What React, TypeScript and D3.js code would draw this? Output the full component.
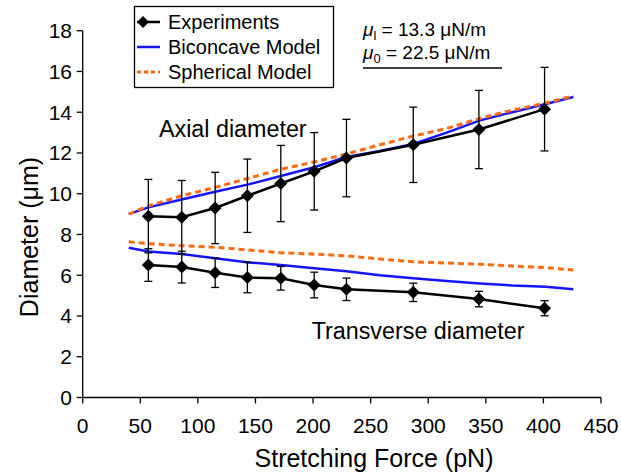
import React from "react";
import * as d3 from "d3";

// experiments: stretching force (pN), diameters (um) with error bars
const forces = [57, 86, 115, 143, 172, 201, 229, 287, 344, 401];
const axialExp = [8.9, 8.85, 9.3, 9.9, 10.5, 11.1, 11.75, 12.4, 13.15, 14.15];
const axialErr = [1.8, 1.8, 1.75, 1.8, 1.87, 1.9, 1.9, 1.85, 1.92, 2.05];
const transExp = [6.5, 6.4, 6.12, 5.89, 5.85, 5.52, 5.31, 5.16, 4.83, 4.38];
const transErr = [0.8, 0.78, 0.72, 0.75, 0.58, 0.63, 0.55, 0.45, 0.38, 0.37];

// model curves
const modelForces = [40, 57, 86, 115, 144, 172, 201, 229, 258, 287, 316, 345, 373, 402, 426];
const biconcaveAxial = [9.0, 9.33, 9.72, 10.1, 10.46, 10.87, 11.3, 11.8, 12.1, 12.44, 13.0, 13.6, 14.0, 14.4, 14.75];
const sphericalAxial = [9.0, 9.4, 9.9, 10.31, 10.76, 11.2, 11.56, 11.95, 12.4, 12.83, 13.2, 13.7, 14.1, 14.45, 14.8];
const biconcaveTrans = [7.35, 7.17, 7.04, 6.83, 6.63, 6.5, 6.34, 6.2, 6.0, 5.85, 5.72, 5.6, 5.5, 5.44, 5.31];
const sphericalTrans = [7.64, 7.55, 7.45, 7.37, 7.24, 7.1, 7.04, 6.95, 6.8, 6.66, 6.6, 6.54, 6.45, 6.37, 6.26];

const xTicks = [0, 50, 100, 150, 200, 250, 300, 350, 400, 450];
const yTicks = [0, 2, 4, 6, 8, 10, 12, 14, 16, 18];

const W = 621;
const H = 476;
const FONT = "'Liberation Sans', Arial, sans-serif";
const BLUE = "#1414ff";
const ORANGE = "#ff6a10";

const x = d3.scaleLinear().domain([0, 450]).range([82.7, 601]);
const y = d3.scaleLinear().domain([0, 18]).range([397.5, 30.7]);

const line = d3
  .line<[number, number]>()
  .x((d) => x(d[0]))
  .y((d) => y(d[1]));

const zip = (xs: number[], ys: number[]): [number, number][] => xs.map((v, i) => [v, ys[i]]);

const diamond = (cx: number, cy: number, r: number) =>
  `M${cx},${cy - r}L${cx + r},${cy}L${cx},${cy + r}L${cx - r},${cy}Z`;

const ErrorBars = ({ vals, errs }: { vals: number[]; errs: number[] }) => (
  <g stroke="#000" strokeWidth={1.3}>
    {forces.map((f, i) => {
      const cx = x(f);
      const y0 = y(vals[i] - errs[i]);
      const y1 = y(vals[i] + errs[i]);
      return (
        <g key={i}>
          <line x1={cx} x2={cx} y1={y0} y2={y1} />
          <line x1={cx - 4} x2={cx + 4} y1={y0} y2={y0} />
          <line x1={cx - 4} x2={cx + 4} y1={y1} y2={y1} />
        </g>
      );
    })}
  </g>
);

const Experiment = ({ vals }: { vals: number[] }) => (
  <g>
    <path d={line(zip(forces, vals)) || ""} fill="none" stroke="#000" strokeWidth={2.5} />
    {forces.map((f, i) => (
      <path key={i} d={diamond(x(f), y(vals[i]), 6.5)} fill="#000" />
    ))}
  </g>
);

export default function App() {
  const x0 = x(0);
  const yb = y(0);
  return (
    <svg
      width={W}
      height={H}
      style={{ position: "absolute", left: 0, top: 0, background: "#fff" }}
      fontFamily={FONT}
    >
      {/* axes */}
      <g stroke="#000" strokeWidth={1.3}>
        <line x1={x0} x2={x(450)} y1={yb} y2={yb} />
        <line x1={x0} x2={x0} y1={yb} y2={y(18)} />
        {xTicks.map((t) => (
          <line key={t} x1={x(t)} x2={x(t)} y1={yb} y2={yb + 6} />
        ))}
        {yTicks.map((t) => (
          <line key={t} x1={x0 - 6} x2={x0} y1={y(t)} y2={y(t)} />
        ))}
      </g>
      {xTicks.map((t) => (
        <text key={t} x={x(t)} y={433} fontSize={21} textAnchor="middle">
          {t}
        </text>
      ))}
      {yTicks.map((t) => (
        <text key={t} x={72} y={y(t) + 7.5} fontSize={21} textAnchor="end">
          {t}
        </text>
      ))}
      <text x={374} y={467} fontSize={25} textAnchor="middle">
        Stretching Force (pN)
      </text>
      <text transform="translate(38,237) rotate(-90)" fontSize={25} textAnchor="middle">
        Diameter (μm)
      </text>

      {/* models */}
      <path d={line(zip(modelForces, biconcaveAxial)) || ""} fill="none" stroke={BLUE} strokeWidth={2.5} />
      <path d={line(zip(modelForces, biconcaveTrans)) || ""} fill="none" stroke={BLUE} strokeWidth={2.5} />
      <path
        d={line(zip(modelForces, sphericalAxial)) || ""}
        fill="none"
        stroke={ORANGE}
        strokeWidth={3}
        strokeDasharray="6,4"
      />
      <path
        d={line(zip(modelForces, sphericalTrans)) || ""}
        fill="none"
        stroke={ORANGE}
        strokeWidth={3}
        strokeDasharray="6,4"
      />

      {/* experiments */}
      <ErrorBars vals={axialExp} errs={axialErr} />
      <ErrorBars vals={transExp} errs={transErr} />
      <Experiment vals={axialExp} />
      <Experiment vals={transExp} />

      <text x={159} y={137.3} fontSize={23.3}>
        Axial diameter
      </text>
      <text x={311.7} y={339.4} fontSize={23.3}>
        Transverse diameter
      </text>

      {/* legend */}
      <rect x={134.5} y={6.5} width={199} height={81} fill="#fff" stroke="#000" strokeWidth={1.3} />
      <line x1={137} x2={160} y1={22} y2={22} stroke="#000" strokeWidth={2.5} />
      <path d={diamond(143, 22, 6)} fill="#000" />
      <text x={168} y={29} fontSize={20}>
        Experiments
      </text>
      <line x1={137} x2={160} y1={47} y2={47} stroke={BLUE} strokeWidth={2.5} />
      <text x={168} y={54} fontSize={20}>
        Biconcave Model
      </text>
      <line x1={137} x2={160} y1={72} y2={72} stroke={ORANGE} strokeWidth={3} strokeDasharray="4,3" />
      <text x={168} y={79} fontSize={20}>
        Spherical Model
      </text>

      {/* parameters */}
      <text x={363} y={36} fontSize={19}>
        <tspan fontStyle="italic">μ</tspan>
        <tspan fontSize={13} dy={4}>l</tspan>
        <tspan dy={-4}> = 13.3 μN/m</tspan>
      </text>
      <text x={363} y={59} fontSize={19}>
        <tspan fontStyle="italic">μ</tspan>
        <tspan fontSize={13} dy={4}>0</tspan>
        <tspan dy={-4}> = 22.5 μN/m</tspan>
      </text>
      <line x1={363} x2={502} y1={68} y2={68} stroke="#000" strokeWidth={1.3} />
    </svg>
  );
}
